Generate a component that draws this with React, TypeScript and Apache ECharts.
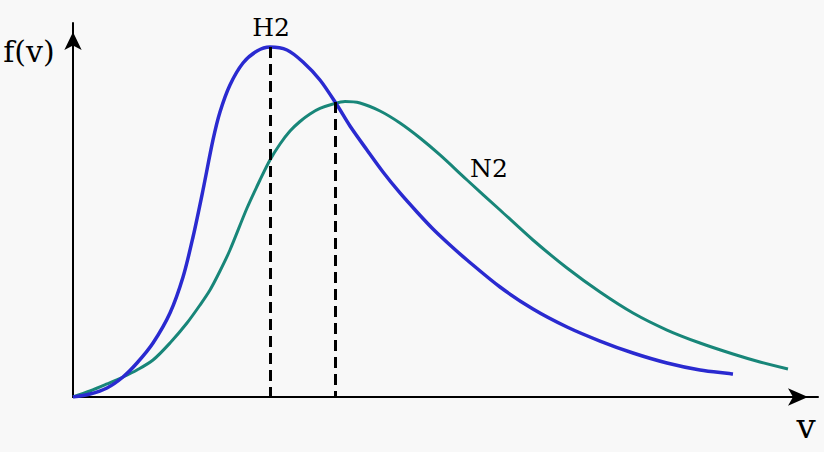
import React, { useEffect, useRef } from "react";
import * as echarts from "echarts";

// Speed v (arbitrary units, 0..100 along the axis) and f(v) (0..100)
const h2Speed = [0, 2.28, 4.56, 6.71, 8.59, 10.74, 13.02, 14.77, 16.11, 17.45, 18.79, 19.73, 21.07, 22.82, 24.7, 26.44, 28.72, 30.87, 33.15, 35.44, 37.18, 39.46, 41.61, 43.89, 46.17, 48.32, 50.6, 52.89, 57.32, 61.74, 66.31, 70.74, 75.17, 79.73, 84.16, 88.59];
const h2Density = [0, 0.8, 2.41, 5.35, 9.09, 14.44, 22.46, 32.09, 42.78, 55.35, 68.72, 76.2, 83.42, 89.3, 92.51, 93.58, 92.78, 89.57, 84.76, 78.07, 72.46, 66.04, 60.16, 54.55, 49.47, 44.92, 40.64, 36.63, 29.41, 23.53, 18.72, 14.97, 11.76, 9.09, 7.22, 6.15];

const n2Speed = [0, 2.28, 4.56, 6.71, 8.59, 10.74, 13.02, 15.3, 17.05, 18.39, 19.73, 21.07, 23.36, 25.1, 26.44, 27.79, 29.13, 30.47, 31.81, 33.15, 34.9, 36.51, 38.52, 41.21, 43.89, 46.58, 49.26, 52.89, 57.32, 61.74, 66.31, 70.74, 75.17, 79.73, 84.16, 88.59, 92.21, 95.97];
const n2Density = [0, 1.6, 3.48, 5.35, 7.22, 9.89, 14.44, 19.79, 24.6, 28.61, 33.69, 39.3, 50.53, 58.02, 63.37, 67.65, 71.12, 73.66, 75.67, 77.14, 78.34, 79.01, 78.61, 76.47, 73.26, 69.25, 64.71, 58.02, 50.0, 41.98, 34.49, 28.07, 22.46, 17.91, 14.44, 11.5, 9.36, 7.49];

// most probable speeds (dashed markers)
const h2Peak = [26.44, 93.58];
const n2Peak = [35.17, 78.9];

const seriesNames = ["H2", "N2"];
const axisNames = ["f(v)", "v"];

const BLUE = "#2a2ad0";
const TEAL = "#188679";
const SERIF = "DejaVu Serif";

export default function App() {
  const ref = useRef<HTMLDivElement>(null);

  useEffect(() => {
    if (!ref.current) return;
    const chart = echarts.init(ref.current, null, { renderer: "svg" });
    const pair = (xs: number[], ys: number[]) => xs.map((x, i) => [x, ys[i]]);
    const dashed = (p: number[]) => ({
      silent: true,
      symbol: ["none", "none"],
      label: { show: false },
      emphasis: { disabled: true },
      lineStyle: { color: "#000", width: 3, type: [11, 6] as any },
      data: [[{ coord: [p[0], p[1]] }, { coord: [p[0], 0] }]],
    });
    const txt = (text: string, x: number, y: number, size: number) => ({
      type: "text",
      x,
      y,
      style: {
        text,
        fontFamily: SERIF,
        fontSize: size,
        fill: "#000",
        align: "center",
        verticalAlign: "middle",
      },
    });
    chart.setOption({
      animation: false,
      backgroundColor: "#f8f8f8",
      textStyle: { fontFamily: SERIF },
      grid: { left: 73, top: 23, width: 745, height: 374 },
      xAxis: {
        type: "value",
        min: 0,
        max: 100,
        axisLine: {
          show: true,
          symbol: ["none", "arrow"],
          symbolSize: [13, 20],
          symbolOffset: [0, -10],
          lineStyle: { color: "#000", width: 2 },
        },
        axisTick: { show: false },
        axisLabel: { show: false },
        splitLine: { show: false },
      },
      yAxis: {
        type: "value",
        min: 0,
        max: 100,
        axisLine: {
          show: true,
          symbol: ["none", "arrow"],
          symbolSize: [13, 18],
          symbolOffset: [0, -9],
          lineStyle: { color: "#000", width: 2 },
        },
        axisTick: { show: false },
        axisLabel: { show: false },
        splitLine: { show: false },
      },
      series: [
        {
          name: seriesNames[0],
          type: "line",
          data: pair(h2Speed, h2Density),
          smooth: 0.3,
          showSymbol: false,
          lineStyle: { color: BLUE, width: 3.5 },
          z: 3,
          markLine: dashed(h2Peak),
        },
        {
          name: seriesNames[1],
          type: "line",
          data: pair(n2Speed, n2Density),
          smooth: 0.3,
          showSymbol: false,
          lineStyle: { color: TEAL, width: 3 },
          z: 2,
          markLine: dashed(n2Peak),
        },
      ],
      graphic: [
        txt(axisNames[0], 29, 51, 30),
        txt(axisNames[1], 806, 426, 34),
        txt(seriesNames[0], 271, 27, 25),
        txt(seriesNames[1], 489, 168, 25),
      ],
    });
    return () => chart.dispose();
  }, []);

  return (
    <div
      ref={ref}
      style={{ position: "absolute", left: 0, top: 0, width: 824, height: 452 }}
    />
  );
}
